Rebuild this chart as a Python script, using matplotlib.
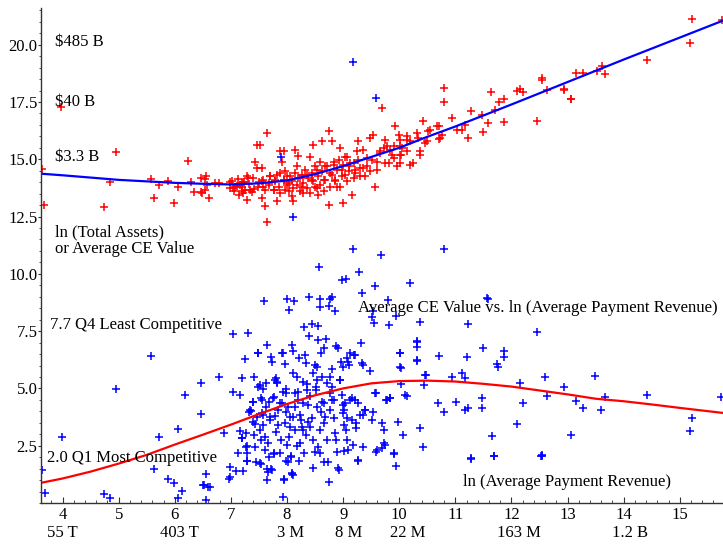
import matplotlib
matplotlib.use("Agg")
from matplotlib import pyplot as plt
from matplotlib.ticker import MultipleLocator, FixedLocator

plt.rcParams['font.family'] = ['Liberation Serif', 'DejaVu Serif']

# ln(total assets) vs ln(avg payment revenue)  -> red points
red_x = [3.64, 3.67, 3.98, 4.96, 4.85, 4.74, 5.58, 5.63, 5.71, 5.87, 5.99, 6.05, 6.23, 6.29, 6.35, 6.47, 6.47,
         6.53, 6.56, 6.54, 6.58, 6.61, 6.72, 6.79, 6.98, 6.98, 7.04, 7.1, 7.16, 7.22, 7.19, 7.25, 7.28, 7.28, 7.31,
         6.48, 7.07, 7.19, 7.22, 7.34, 7.4, 7.43, 7.46, 7.52, 7.46, 7.49, 7.55, 7.61, 7.64, 7.64, 7.55, 7.58, 7.67,
         7.7, 7.76, 7.79, 7.82, 7.88, 7.91, 7.94, 7.88, 7.94, 7.97, 8.0, 8.03, 8.08, 8.11, 8.14, 8.17, 8.2, 8.23,
         8.26, 8.29, 8.35, 8.41, 8.44, 8.47, 8.5, 8.53, 8.56, 8.59, 8.62, 8.65, 8.68, 8.74, 8.74, 8.77, 8.8, 8.83,
         8.86, 8.89, 8.92, 8.95, 8.98, 9.0, 9.04, 9.07, 9.1, 9.15, 9.19, 9.22, 9.25, 9.27, 9.3, 9.36, 9.39, 9.42,
         9.48, 9.51, 9.54, 9.57, 9.6, 9.66, 9.69, 9.72, 9.75, 9.78, 9.81, 9.87, 9.9, 9.93, 9.96, 9.99, 10.02, 10.05,
         10.14, 10.19, 10.31, 10.37, 10.43, 10.49, 10.52, 10.7, 10.73, 10.79, 10.8,
         7.55, 7.58, 7.61, 7.67, 7.7, 7.76, 7.79, 7.82, 7.85, 7.88, 7.94, 7.97, 8.0, 8.03, 8.06, 8.08, 8.11, 8.14,
         8.17, 8.2, 8.23, 8.26, 8.29, 8.32, 8.35, 8.38, 8.41, 8.44, 8.47, 8.5, 8.53, 8.56, 8.59, 8.62, 8.65, 8.68,
         8.71, 8.77, 8.8, 8.83, 8.86, 8.89, 8.95, 8.98, 9.0, 9.04, 9.07, 9.1, 9.13, 9.19, 9.22, 9.27, 9.3, 9.36,
         9.42, 9.48, 9.6, 9.66, 9.75, 9.84, 9.9, 10.02, 10.14, 10.19, 10.25,
         7.02, 7.06, 7.12, 7.14, 7.2, 7.24, 7.33, 7.37, 7.42, 7.5,
         10.02, 10.04, 10.02, 10.13, 10.34, 10.37, 10.46, 10.55, 10.7, 10.76, 10.94, 11.03, 11.11, 11.17, 11.23,
         11.28, 11.47, 11.5, 11.58, 11.64, 11.7, 11.77, 11.86, 11.87, 12.09, 12.15, 12.21, 12.45, 12.54, 12.54,
         12.63, 12.93, 13.06, 13.15, 13.28, 13.52, 15.21, 15.18, 15.75, 14.41, 13.61, 13.66, 12.93, 13.06, 10.67]
red_y = [14.57, 13.01, 17.28, 15.33, 13.99, 12.91, 14.13, 13.3, 13.89, 14.03, 13.11, 13.79, 14.92, 13.99, 13.59,
         14.17, 13.55, 14.13, 14.28, 13.67, 13.89, 13.3, 13.96, 13.96, 13.99, 13.74, 13.74, 13.84, 13.89, 13.99,
         13.6, 13.67, 13.23, 14.25, 14.17,
         13.52, 13.81, 13.96, 13.52, 13.67, 14.18, 14.9, 15.63, 15.63, 14.62, 13.81, 13.3, 12.94, 12.28, 16.14,
         14.62, 14.1, 13.96, 14.25, 13.67, 14.1, 13.16, 15.36, 14.9, 15.36, 14.4, 14.1, 13.67, 14.25, 13.96, 13.38,
         13.16, 15.41, 14.7, 15.13, 14.18, 13.81, 13.52, 14.32, 15.12, 14.1, 15.63, 13.81, 14.54, 13.45, 14.9, 15.78,
         14.1, 14.69, 16.22, 13.01, 14.4, 15.78, 14.76, 14.1, 13.81, 14.98, 15.48, 14.54, 13.09, 14.32, 15.12, 14.69,
         13.45, 14.83, 14.4, 15.34, 15.78, 14.62, 15.41, 14.25, 14.69, 15.93, 14.98, 16.07, 13.81, 14.54, 15.34,
         17.23, 15.48, 15.85, 15.56, 14.83, 15.2, 15.56, 16.43, 14.69, 16.07, 15.2, 15.48, 15.85, 14.76, 16.14, 15.2,
         16.65, 15.78, 16.22, 16.43, 15.93, 17.52, 18.1,
         14.03, 13.81, 13.67, 13.89, 14.25, 13.67, 14.03, 14.32, 13.81, 13.52, 14.1, 14.47, 13.89, 13.6, 14.25,
         14.03, 13.74, 14.4, 13.89, 14.18, 13.6, 14.32, 13.96, 14.54, 13.74, 14.18, 13.52, 14.4, 14.03, 14.69, 13.74,
         14.25, 13.89, 14.47, 13.6, 14.1, 14.69, 13.81, 14.32, 14.9, 14.03, 14.54, 13.81, 14.25, 14.76, 15.12, 14.03,
         14.47, 14.83, 14.18, 14.54, 14.98, 14.25, 14.62, 15.05, 14.47, 14.9, 15.27, 14.83, 15.41, 15.05, 15.56,
         15.34, 15.78, 14.83,
         14.05, 13.62, 14.12, 13.45, 13.8, 14.02, 13.9, 13.55, 13.7, 14.0,
         15.85, 15.2, 14.83, 16.0, 15.93, 15.34, 15.71, 16.29, 15.9, 16.07, 16.8, 16.26, 16.26, 16.51, 15.93, 17.12,
         16.94, 16.17, 16.58, 17.93, 17.13, 17.48, 16.61, 17.63, 18.0, 18.08, 17.93, 16.68, 18.55, 18.44, 18.03,
         18.03, 17.64, 18.76, 18.76, 18.83, 21.14, 20.07, 21.09, 19.34, 19.05, 18.73, 18.06, 17.64, 16.46]

# CE value vs ln(avg payment revenue) -> blue points
blue_x = [3.64, 3.69, 3.99, 4.74, 4.85, 4.96, 5.58, 5.63, 5.71, 5.87, 5.99, 6.05, 6.06, 6.12, 6.18, 6.47, 6.47,
          6.55, 6.52, 6.59, 6.55, 6.62, 6.79, 6.88, 6.97, 6.98, 7.03, 7.04, 7.09, 7.12, 7.17, 7.17, 7.19, 7.2, 7.22,
          7.25, 7.27, 7.28, 7.29, 7.3, 7.29, 7.32,
          7.35, 7.4, 7.42, 7.43, 7.49, 7.51, 7.54, 7.55, 7.58, 7.59, 7.63, 7.64, 7.67, 7.7, 7.71, 7.74, 7.77, 7.8,
          7.83, 7.84, 7.88, 7.91, 7.93, 7.96, 7.98, 8.0, 8.03, 8.02, 8.05, 8.08, 8.1, 8.11, 8.13, 8.14, 8.17, 8.2,
          8.22, 8.23, 8.28, 8.31, 8.34, 8.35, 8.36, 8.38, 8.39, 8.4, 8.41, 8.44, 8.47, 8.5, 8.52, 8.53, 8.55, 8.56,
          8.57, 8.58, 8.59, 8.6, 8.62, 8.65, 8.66, 8.69, 8.71, 8.74, 8.76, 8.77, 8.8, 8.81, 8.83, 8.86, 8.87, 8.9,
          8.95, 8.96, 8.98, 9.0, 9.02, 9.05, 9.06, 9.09, 9.12, 9.15, 9.18, 9.19, 9.21, 9.23, 9.28, 9.32, 9.34, 9.35,
          9.36, 9.39, 9.51, 9.54, 9.55, 9.57, 9.59, 9.68, 9.76, 9.8, 9.82, 9.84, 9.95, 10.01, 10.01, 10.03, 10.13,
          10.19, 10.31, 10.31, 10.32, 10.37, 10.44, 10.48, 10.7, 10.69, 10.79, 10.8, 10.94, 11.01, 11.11, 11.17,
          11.2, 11.23, 11.47, 11.5, 11.56, 11.65, 11.74,
          6.98, 7.19, 7.27, 7.28, 7.34, 7.4, 7.4, 7.41, 7.43, 7.45, 7.46, 7.48, 7.49, 7.51, 7.52, 7.53, 7.55, 7.57,
          7.58, 7.6, 7.61, 7.62, 7.64, 7.65, 7.66, 7.68, 7.7, 7.73, 7.75, 7.76, 7.79, 7.79, 7.8, 7.82, 7.84, 7.88,
          7.89, 7.91, 7.92, 7.93, 7.95, 7.96, 7.98, 7.99, 8.0, 8.02, 8.04, 8.05, 8.07, 8.08, 8.1, 8.11, 8.14, 8.15,
          8.17, 8.2, 8.23, 8.24, 8.26, 8.28, 8.29, 8.3, 8.32, 8.34, 8.38, 8.41, 8.44, 8.46, 8.47, 8.5, 8.52, 8.53,
          8.54, 8.56, 8.58, 8.59, 8.6, 8.62, 8.65, 8.66, 8.68, 8.71, 8.73, 8.74, 8.76, 8.77, 8.8, 8.81, 8.84, 8.86,
          8.87, 8.89, 8.91, 8.95, 8.98, 8.99, 9.0, 9.02, 9.04, 9.05, 9.06, 9.07, 9.09, 9.11, 9.12, 9.15, 9.18, 9.21,
          9.23, 9.26, 9.27, 9.3, 9.33, 9.35, 9.39, 9.48, 9.51, 9.54, 9.57, 9.6, 9.69, 9.72, 9.73, 9.75, 9.78, 9.84,
          9.9, 9.94, 9.98, 10.01, 10.03, 10.06, 10.1, 10.31, 10.32, 10.37, 10.43, 10.45,
          11.58, 12.45, 11.87, 11.86, 11.76, 11.18, 12.6, 13.49, 12.15, 12.93, 12.64, 13.66, 14.41, 15.74, 13.15,
          12.21, 11.22, 11.47, 13.28, 13.6, 15.21, 15.18, 12.09, 13.06, 11.28, 11.69, 12.54, 12.54,
          6.51, 7.53, 7.66, 7.72, 7.77, 7.95, 7.98, 8.08, 8.07, 8.21, 8.93, 9.02, 9.27, 9.59, 9.69, 9.9, 11.27,
          11.68, 12.52,
          9.18, 9.58, 7.89, 8.11]
blue_y = [1.44, 0.45, 2.87, 0.39, 0.22, 4.98, 6.42, 1.5, 2.87, 1.03, 0.86, 3.22, 0.23, 0.54, 4.72, 5.23, 3.89,
          1.25, 0.79, 0.69, 0.13, 0.71, 5.52, 3.07, 1.03, 1.56, 4.86, 7.37, 1.41, 2.2, 4.72, 3.16, 2.83, 5.45, 1.41,
          6.28, 3.04, 2.2, 2.49, 7.44, 1.85, 3.99,
          4.02, 4.42, 5.52, 3.45, 6.54, 5.15, 4.57, 3.92, 4.97, 8.82, 5.25, 6.9, 4.42, 3.77, 6.39, 6.17, 4.64, 5.45,
          5.3, 4.06, 4.35, 6.54, 4.86, 6.06, 4.79, 8.9, 8.43, 4.21, 3.77, 6.9, 6.64, 5.66, 8.82, 4.79, 5.52, 4.5,
          6.32, 3.84, 5.3, 7.66, 6.1, 5.2, 4.93, 3.55, 9.01, 7.29, 4.67, 7.8, 5.66, 6.03, 5.08, 4.21, 7.73, 7.12,
          10.32, 8.9, 8.55, 6.54, 5.52, 6.76, 4.35, 7.15, 5.23, 8.6, 8.9, 4.79, 9.01, 5.84, 4.5, 8.38, 6.86, 6.76,
          5.37, 6.17, 9.74, 5.95, 4.06, 9.77, 6.32, 6.17, 6.54, 4.57, 11.09, 6.46, 4.5, 3.48, 10.1, 6.97, 9.16, 6.03,
          3.84, 4.06, 8.11, 8.36, 7.85, 9.45, 4.82, 10.83, 4.5, 8.86, 7.77, 4.57, 8.17, 6.56, 5.95, 5.2, 4.67,
          9.62, 7.05, 6.8, 6.21, 7.92, 5.15, 5.59, 6.42, 4.35, 11.09, 3.99, 5.52, 4.42, 5.66, 4.06,
          6.35, 7.8, 4.6, 6.76, 8.94, 2.93, 6.07,
          1.15, 2.83, 2.46, 1.85, 4.06, 4.42, 3.55, 2.97, 2.46, 1.8, 3.77, 6.54, 5.08, 3.19, 1.73, 2.75, 4.5, 3.84,
          3.41, 2.31, 2.9, 4.21, 1.0, 1.47, 2.6, 2.0, 3.62, 1.44, 4.57, 2.17, 5.37, 3.8, 3.11, 5.23, 3.41, 2.2,
          2.75, 4.35, 0.28, 6.54, 1.0, 3.48, 3.99, 4.97, 2.53, 1.8, 2.9, 3.33, 2.02, 1.3, 3.77, 1.22, 4.21, 3.19,
          2.49, 4.86, 2.6, 3.62, 3.33, 4.35, 3.19, 2.17, 6.46, 2.97, 4.28, 3.3, 3.7, 2.75, 1.51, 2.24, 4.93, 5.37,
          5.95, 2.46, 3.19, 2.2, 3.99, 4.42, 3.48, 1.8, 3.77, 2.75, 1.8, 0.93, 5.52, 4.06, 4.5, 5.08, 3.7, 3.04,
          2.75, 2.24, 1.51, 5.37, 4.72, 4.28, 3.92, 3.41, 4.35, 3.19, 3.7, 2.75, 2.31, 6.03, 4.5, 3.62, 2.53, 6.46,
          3.26, 1.88, 4.35, 3.84, 6.1, 2.46, 4.06, 5.78, 3.62, 3.99, 4.82, 2.31, 3.48, 3.19, 2.6, 2.53, 4.5, 4.57,
          2.17, 1.62, 3.55, 6.54, 5.88, 2.97, 4.72, 7.04, 6.24, 3.26, 2.46, 5.59,
          8.92, 7.45, 6.65, 6.36, 5.93, 5.46, 5.52, 5.55, 5.25, 5.05, 4.69, 4.64, 4.72, 4.64, 4.45,
          4.37, 4.16, 4.16, 4.16, 4.06, 3.7, 3.16, 3.44, 2.96, 1.95, 2.04, 2.1, 2.03,
          0.79, 1.7, 1.37, 1.48, 2.14, 1.03, 1.85, 1.27, 2.05, 1.85, 1.44, 2.28, 1.85, 2.24, 2.39, 2.14, 1.92,
          2.05, 2.07,
          19.24, 17.66, 15.1, 12.5]

# fitted curves
assets_fit_x = [3.615, 4, 5, 6, 6.5, 7, 7.5, 8, 8.5, 9, 9.5, 10, 10.5, 11, 12, 13, 14, 15, 15.77]
assets_fit_y = [14.37, 14.3, 14.1, 13.97, 13.93, 13.9, 13.95, 14.07, 14.35, 14.7, 15.1, 15.5, 15.98, 16.43,
                17.39, 18.37, 19.35, 20.31, 21.05]
ce_fit_x = [3.615, 4, 4.5, 5, 5.5, 6, 6.5, 7, 7.5, 8, 8.5, 9, 9.5, 10, 10.5, 11, 11.5, 12, 12.5, 13, 13.5, 14,
            14.5, 15, 15.77]
ce_fit_y = [0.88, 1.07, 1.37, 1.72, 2.1, 2.55, 2.98, 3.42, 3.88, 4.32, 4.7, 5.0, 5.22, 5.32, 5.34, 5.3, 5.2,
            5.08, 4.91, 4.74, 4.55, 4.44, 4.3, 4.15, 3.93]

xticks = [4, 5, 6, 7, 8, 9, 10, 11, 12, 13, 14, 15]
yticks = [2.5, 5.0, 7.5, 10.0, 12.5, 15.0, 17.5, 20.0]
rev_pos = [4.0, 6.09, 8.07, 9.09, 10.15, 12.13, 14.12]
rev_labels = ['55 T', '403 T', '3 M', '8 M', '22 M', '163 M', '1.2 B']
asset_labels = ['$485 B', '$40 B', '$3.3 B']
asset_pos = [20.1, 17.5, 15.1]

fig = plt.figure(figsize=(7.23, 5.48), dpi=100)
ax = fig.add_axes([41/723, 45/548, 682/723, 495/548])

ax.plot(red_x, red_y, '+', color='red', ms=5.5, mew=1.1)
ax.plot(blue_x, blue_y, '+', color='blue', ms=5.5, mew=1.1)
ax.plot(assets_fit_x, assets_fit_y, color='blue', lw=1.6)
ax.plot(ce_fit_x, ce_fit_y, color='red', lw=1.6)

ax.set_xlim(3.615, 15.77)
ax.set_ylim(0, 21.6)
for s in ['top', 'right']:
    ax.spines[s].set_visible(False)
for s in ['left', 'bottom']:
    ax.spines[s].set_color('#333333')
    ax.spines[s].set_linewidth(1.0)

ax.xaxis.set_major_locator(FixedLocator(xticks))
ax.xaxis.set_minor_locator(MultipleLocator(0.2))
ax.yaxis.set_major_locator(FixedLocator(yticks))
ax.yaxis.set_minor_locator(MultipleLocator(0.5))
ax.set_xticklabels([str(t) for t in xticks])
ax.set_yticklabels(['%.1f' % t for t in yticks])
ax.tick_params(axis='x', which='major', direction='in', length=4.5, width=0.8, pad=3, labelsize=12, colors='#333333')
ax.tick_params(axis='x', which='minor', direction='in', length=2.5, width=0.6, colors='#333333')
ax.tick_params(axis='y', which='major', direction='out', length=2.5, width=0.8, pad=0, labelsize=12, colors='#333333')
ax.tick_params(axis='y', which='minor', direction='out', length=1.5, width=0.6, colors='#333333')
for lab in ax.get_xticklabels() + ax.get_yticklabels():
    lab.set_color('black')

for p, t in zip(rev_pos, rev_labels):
    ax.text(p, -1.3, t, ha='center', va='center', fontsize=12)
for p, t in zip(asset_pos, asset_labels):
    ax.text(3.87, p, t, ha='left', va='center', fontsize=12)

ax.text(3.87, 11.45, 'ln (Total Assets)\nor Average CE Value', ha='left', va='center', fontsize=12, linespacing=1.05)
ax.text(3.77, 7.77, '7.7 Q4 Least Competitive', ha='left', va='center', fontsize=12)
ax.text(3.72, 1.97, '2.0 Q1 Most Competitive', ha='left', va='center', fontsize=12)
ax.text(9.27, 8.52, 'Average CE Value vs. ln (Average Payment Revenue)', ha='left', va='center', fontsize=12.1)
ax.text(11.14, 0.92, 'ln (Average Payment Revenue)', ha='left', va='center', fontsize=12)

fig.savefig('out.png', dpi=100)
